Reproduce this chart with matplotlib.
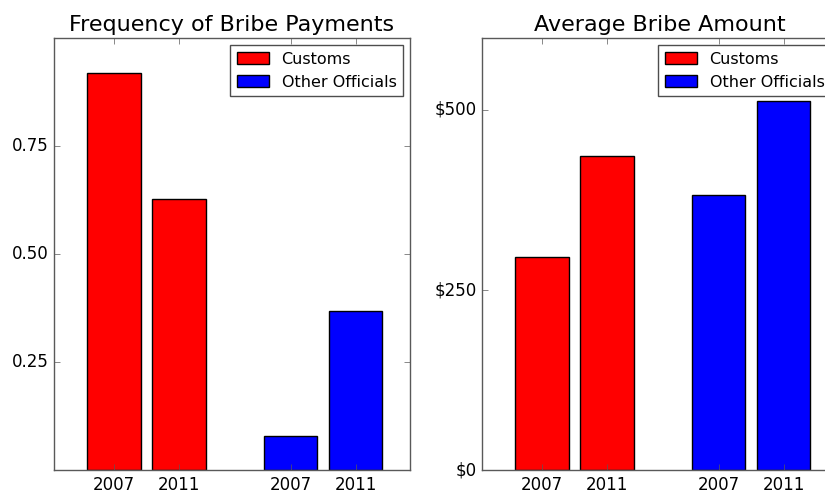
import numpy as np
import matplotlib
matplotlib.use('Agg')
import matplotlib.pyplot as plt

# dados
anos = ['2007', '2011']
freq_alfandega = [0.918, 0.628]
freq_outros = [0.079, 0.369]
valor_alfandega = [296, 436]
valor_outros = [382, 512]

plt.style.use('classic')
plt.rcParams['figure.facecolor'] = 'white'
plt.rcParams['savefig.facecolor'] = 'white'
plt.rcParams['font.family'] = 'DejaVu Sans'
plt.rcParams['font.size'] = 12
plt.rcParams['axes.edgecolor'] = '0.35'
plt.rcParams['xtick.color'] = '0.35'
plt.rcParams['ytick.color'] = '0.35'
plt.rcParams['xtick.labelcolor'] = 'black'
plt.rcParams['ytick.labelcolor'] = 'black'

pos_a = np.array([0.0, 1.0])
pos_o = np.array([2.72, 3.72])
largura = 0.82

fig = plt.figure(figsize=(8.25, 4.93), dpi=100)
W, H = 825.0, 493.0
ax1 = fig.add_axes([54 / W, 23 / H, 356 / W, 432 / H])
ax2 = fig.add_axes([482 / W, 23 / H, 356 / W, 432 / H])


def desenha(ax, va, vo, titulo, ylim, yticks, ylabels):
    ax.bar(pos_a, va, largura, align='center', color='red', edgecolor='black', label='Customs')
    ax.bar(pos_o, vo, largura, align='center', color='blue', edgecolor='black', label='Other Officials')
    ax.set_xticks(np.concatenate([pos_a, pos_o]))
    ax.set_xticklabels(anos + anos)
    ax.set_xlim(-0.923, 4.554)
    ax.set_ylim(*ylim)
    ax.set_yticks(yticks)
    ax.set_yticklabels(ylabels)
    ax.set_title(titulo, fontsize=16)
    leg = ax.legend(loc='upper right', fontsize=11.5, fancybox=False, borderaxespad=0.45)
    leg.get_frame().set_edgecolor('0.3')


desenha(ax1, freq_alfandega, freq_outros, 'Frequency of Bribe Payments',
        (0, 1), [0.25, 0.5, 0.75], ['0.25', '0.50', '0.75'])
desenha(ax2, valor_alfandega, valor_outros, 'Average Bribe Amount',
        (0, 600), [0, 250, 500], ['$0', '$250', '$500'])

fig.savefig('out.png', dpi=100)
